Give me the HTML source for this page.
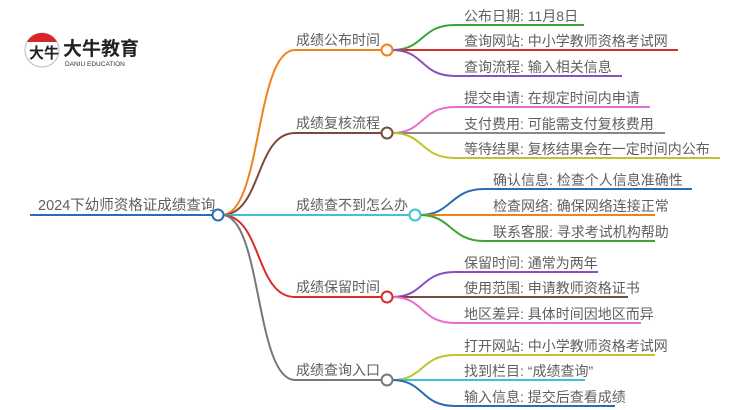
<!DOCTYPE html>
<html><head><meta charset="utf-8"><style>
html,body{margin:0;padding:0;background:#fff;}
svg{display:block;}
text{font-family:"Liberation Sans","Noto Sans CJK SC",sans-serif;fill:#5f5f5f;}
</style></head><body>
<svg width="750" height="410" viewBox="0 0 750 410" xmlns="http://www.w3.org/2000/svg">
<g>
  <circle cx="42" cy="50" r="17" fill="#fff" stroke="#bbb" stroke-width="1"/>
  <path d="M27,42 A17,17 0 0 1 57,42 Z" fill="#d9262c"/>
  <text x="29" y="58" font-size="15" style="fill:#222" font-weight="bold">大牛</text>
  <text x="63" y="55" font-size="19" font-weight="bold" style="fill:#222">大牛教育</text>
  <text x="65" y="66" font-size="6.5" style="fill:#333">DANIU EDUCATION</text>
</g>
<g fill="none" stroke-width="2">
  <line x1="30" y1="215" x2="213" y2="215" stroke="#2a6db5"/>
  <path d="M222,215 C262,215 255,50 295,50 L382,50" stroke="#f0821e"/>
  <path d="M222,215 C262,215 255,133 295,133 L382,133" stroke="#7a4b3a"/>
  <path d="M222,215 L410,215" stroke="#3cc3d8"/>
  <path d="M222,215 C262,215 255,297 295,297 L382,297" stroke="#d92b2b"/>
  <path d="M222,215 C262,215 255,380 295,380 L382,380" stroke="#777"/>
  <path d="M392,50 C425,50 420,25 455,25 L584,25" stroke="#3aa635"/>
  <path d="M392,50 L678,50" stroke="#d92b2b"/>
  <path d="M392,50 C425,50 420,76 455,76 L622,76" stroke="#8a4fc0"/>
  <path d="M392,133 C425,133 420,107 455,107 L650,107" stroke="#e86fcf"/>
  <path d="M392,133 L665,133" stroke="#888"/>
  <path d="M392,133 C425,133 420,158 455,158 L720,158" stroke="#c2c22a"/>
  <path d="M420,215 C452,215 450,189 484,189 L692,189" stroke="#2a6db5"/>
  <path d="M420,215 L655,215" stroke="#f0821e"/>
  <path d="M420,215 C452,215 450,241 484,241 L655,241" stroke="#3aa635"/>
  <path d="M392,297 C425,297 420,272 455,272 L598,272" stroke="#8a4fc0"/>
  <path d="M392,297 L628,297" stroke="#7a4b3a"/>
  <path d="M392,297 C425,297 420,323 455,323 L641,323" stroke="#e86fcf"/>
  <path d="M392,380 C425,380 420,355 455,355 L655,355" stroke="#c2c22a"/>
  <path d="M392,380 L585,380" stroke="#3cc3d8"/>
  <path d="M392,380 C425,380 420,406 455,406 L615,406" stroke="#2a6db5"/>
  <circle cx="218" cy="215" r="5.5" fill="#fff" stroke="#2a6db5"/>
  <circle cx="387" cy="50" r="5.5" fill="#fff" stroke="#f0821e"/>
  <circle cx="387" cy="133" r="5.5" fill="#fff" stroke="#7a4b3a"/>
  <circle cx="415" cy="215" r="5.5" fill="#fff" stroke="#3cc3d8"/>
  <circle cx="387" cy="297" r="5.5" fill="#fff" stroke="#d92b2b"/>
  <circle cx="387" cy="380" r="5.5" fill="#fff" stroke="#777"/>
</g>
<g font-size="14">
  <text x="38" y="210" font-size="14.5">2024下幼师资格证成绩查询</text>
  <text x="296" y="45">成绩公布时间</text>
  <text x="296" y="128">成绩复核流程</text>
  <text x="296" y="210">成绩查不到怎么办</text>
  <text x="296" y="292">成绩保留时间</text>
  <text x="296" y="375">成绩查询入口</text>
</g>
<g font-size="14">
  <text x="464" y="21">公布日期: 11月8日</text>
  <text x="464" y="46">查询网站: 中小学教师资格考试网</text>
  <text x="464" y="72">查询流程: 输入相关信息</text>
  <text x="464" y="103">提交申请: 在规定时间内申请</text>
  <text x="464" y="129">支付费用: 可能需支付复核费用</text>
  <text x="464" y="154">等待结果: 复核结果会在一定时间内公布</text>
  <text x="493" y="185">确认信息: 检查个人信息准确性</text>
  <text x="493" y="211">检查网络: 确保网络连接正常</text>
  <text x="493" y="237">联系客服: 寻求考试机构帮助</text>
  <text x="464" y="268">保留时间: 通常为两年</text>
  <text x="464" y="293">使用范围: 申请教师资格证书</text>
  <text x="464" y="319">地区差异: 具体时间因地区而异</text>
  <text x="464" y="351">打开网站: 中小学教师资格考试网</text>
  <text x="464" y="376">找到栏目: “成绩查询”</text>
  <text x="464" y="402">输入信息: 提交后查看成绩</text>
</g>
</svg>
</body></html>
